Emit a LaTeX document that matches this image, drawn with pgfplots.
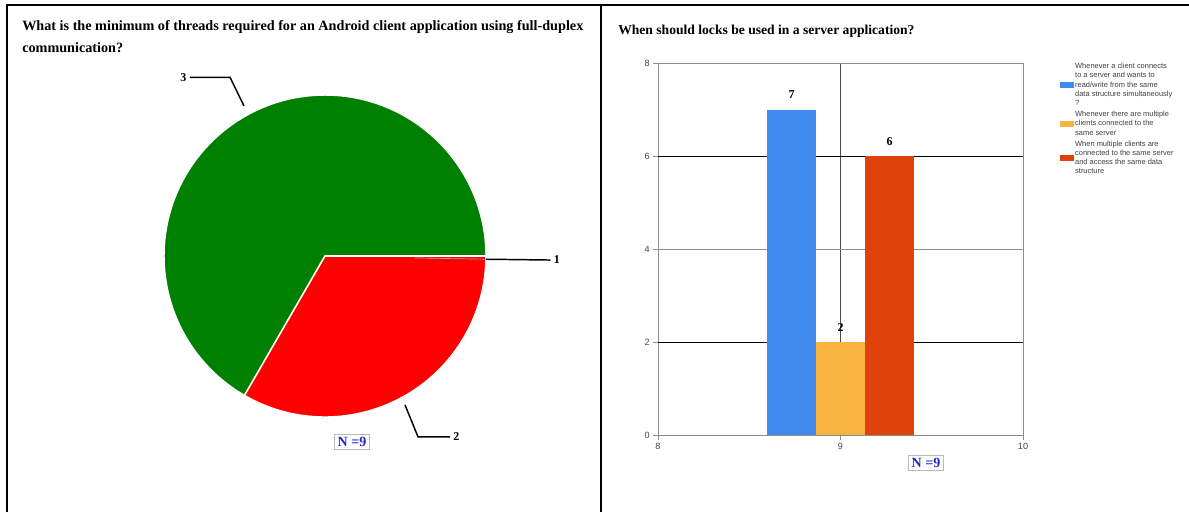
\documentclass[border=0pt]{standalone}
\usepackage{pgfplots}
\pgfplotsset{compat=1.18}
\usepackage{fontspec}
\setmainfont{Liberation Serif}
\setsansfont{Liberation Sans}
\definecolor{piegreen}{HTML}{008000}
\definecolor{piered}{HTML}{FF0000}
\definecolor{barblue}{HTML}{418BEE}
\definecolor{baryellow}{HTML}{F9B440}
\definecolor{barred}{HTML}{E0420D}
\definecolor{nblue}{HTML}{2626C8}
\definecolor{tickgray}{HTML}{444444}
\definecolor{gridgray}{HTML}{8C8C8C}
\begin{document}
\begin{tikzpicture}
\path[use as bounding box] (0pt,0pt) rectangle (891.75pt,-384pt);
\begin{scope}[x=0.75pt,y=-0.75pt]
\fill[white] (0,0) rectangle (1189,512);
% panel frames
\draw[line width=1.7pt] (7,512) -- (7,5) -- (1189,5);
\draw[line width=1.7pt] (601,5) -- (601,512);
% titles
\node[anchor=west, inner sep=0pt, font=\bfseries\fontsize{10.65}{12}\selectfont] at (22,27) {What is the minimum of threads required for an Android client application using full-duplex};
\node[anchor=west, inner sep=0pt, font=\bfseries\fontsize{10.65}{12}\selectfont] at (22,48) {communication?};
\node[anchor=west, inner sep=0pt, font=\bfseries\fontsize{10.2}{12}\selectfont] at (618,31) {When should locks be used in a server application?};
\end{scope}

% ---------- pie chart (values: 3 -> 6, 2 -> 3, 1 -> 0; N = 9) ----------
\begin{axis}[at={(325*0.75pt,-256*0.75pt)}, anchor=center, hide axis, scale only axis,
  width=241.5pt, height=241.5pt, xmin=-1, xmax=1, ymin=-1, ymax=1, clip=false]
\fill[piegreen, draw=white, line width=1.1pt] (axis cs:0,0) -- (axis cs:1,0)
   arc[start angle=0, end angle={360*6/9}, radius=120.75pt] -- cycle;
\fill[piered, draw=white, line width=1.1pt] (axis cs:0,0) -- (axis cs:{cos(360*6/9)},{sin(360*6/9)})
   arc[start angle={360*6/9}, end angle={360*(6+3)/9}, radius=120.75pt] -- cycle;
\draw[white, line width=1.4pt] (axis cs:0,0) -- (axis cs:1,0);
\draw[gray!70, line width=0.5pt] (axis cs:0.56,-0.012) -- (axis cs:1.0,-0.02);
% leaders
\draw[black, line width=1.1pt] (axis cs:-0.503,0.932) -- (axis cs:-0.59,1.11) -- (axis cs:-0.84,1.11)
   node[left, inner sep=2pt, font=\bfseries\fontsize{9}{10}\selectfont] {3};
\draw[black, line width=1.1pt] (axis cs:0.497,-0.925) -- (axis cs:0.578,-1.124) -- (axis cs:0.776,-1.124)
   node[right, inner sep=2pt, font=\bfseries\fontsize{9}{10}\selectfont] {2};
\draw[black, line width=1.1pt] (axis cs:1.0,-0.02) -- (axis cs:1.40,-0.025)
   node[right, inner sep=2pt, font=\bfseries\fontsize{9}{10}\selectfont] {1};
\end{axis}

% ---------- bar chart ----------
\begin{axis}[at={(658*0.75pt,-435*0.75pt)}, anchor=south west, scale only axis,
  width=273.75pt, height=279pt,
  xmin=8, xmax=10, ymin=0, ymax=8,
  /pgf/number format/assume math mode=true,
  xtick={8,9,10}, ytick={0,4,8}, extra y ticks={2,6},
  extra y tick style={grid style={black, line width=0.55pt}},
  xmajorgrids, ymajorgrids,
  grid style={gridgray, line width=0.75pt},
  x grid style={black!70, line width=0.6pt},
  axis line style={gridgray, line width=0.75pt},
  tick pos=left, tick align=outside, major tick length=3.8pt,
  tick style={gridgray, line width=0.6pt},
  ticklabel style={font=\sffamily\fontsize{6.8}{7}\selectfont, text=tickgray},
  yticklabel style={xshift=1pt},
  xticklabel style={yshift=1pt},
  clip=false,
  legend style={at={(1.09,1.01)}, anchor=north west, draw=none, fill=none,
     font=\sffamily\fontsize{5.6}{6.9}\selectfont, row sep=1.2pt,
     nodes={inner sep=0.8pt, text=black!75},
     cells={align=left, anchor=west}},
  legend cell align=left,
  legend image code/.code={\fill[#1] (-0.6pt,-2.3pt) rectangle (9.9pt,2.3pt);},
  nodes near coords style={font=\bfseries\fontsize{9}{10}\selectfont, text=black, anchor=south, yshift=4.5pt},
]
\addplot[ybar, bar width=0.2685, bar shift=0pt, fill=barblue, draw=none, nodes near coords]
  coordinates {(8.7315,7)};
\addlegendentry{Whenever a client connects\\to a server and wants to\\read/write from the same\\data structure simultaneously\\?}
\addplot[ybar, bar width=0.2685, bar shift=0pt, fill=baryellow, draw=none, nodes near coords]
  coordinates {(9,2)};
\addlegendentry{Whenever there are multiple\\clients connected to the\\same server}
\addplot[ybar, bar width=0.2685, bar shift=0pt, fill=barred, draw=none, nodes near coords]
  coordinates {(9.2685,6)};
\addlegendentry{When multiple clients are\\connected to the same server\\and access the same data\\structure}
\end{axis}

\begin{scope}[x=0.75pt,y=-0.75pt]
\node[draw=gray!55, line width=1pt, fill=white, text=nblue, inner sep=2.2pt,
  font=\bfseries\fontsize{10.5}{11}\selectfont] at (352,442) {N =9};
\node[draw=gray!55, line width=1pt, fill=white, text=nblue, inner sep=2.2pt,
  font=\bfseries\fontsize{10.5}{11}\selectfont] at (926,463) {N =9};
\end{scope}
\end{tikzpicture}
\end{document}
